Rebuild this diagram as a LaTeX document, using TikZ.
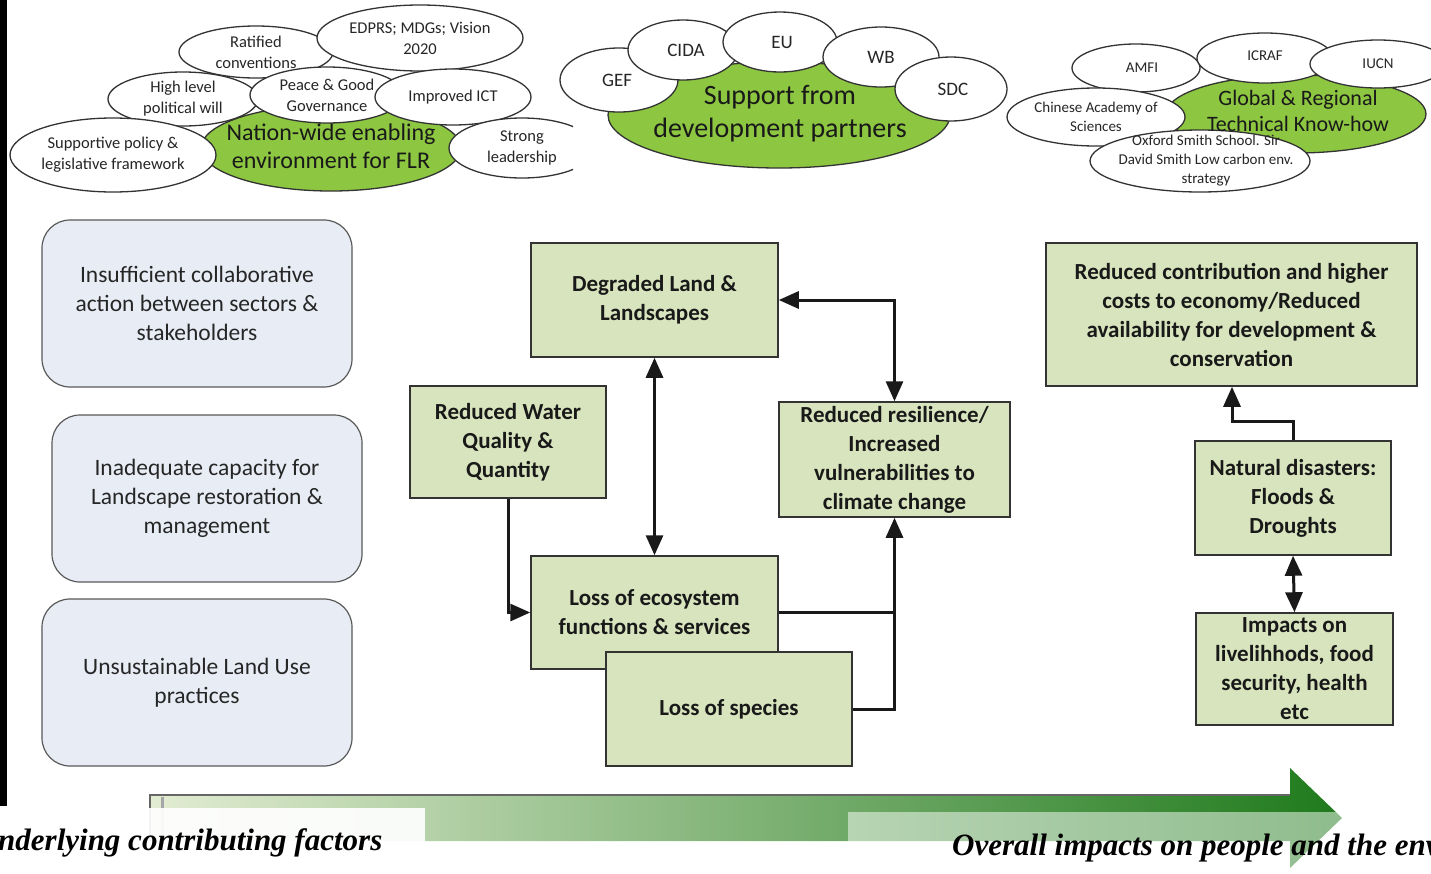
\documentclass[tikz,border=0pt]{standalone}
\usepackage{fontspec}
\setmainfont{Carlito}
\newfontfamily\capfont{Liberation Serif}
\usetikzlibrary{shapes.geometric,arrows.meta}

\definecolor{boxgreen}{HTML}{D7E4BD}
\definecolor{ovalgreen}{HTML}{8DC641}
\definecolor{causeblue}{HTML}{E8EDF5}
\definecolor{arrowlight}{HTML}{E2ECD2}
\definecolor{arrowmid}{HTML}{A9C681}
\definecolor{arrowdark}{HTML}{1F7A1C}

\begin{document}
\begin{tikzpicture}[x=1pt,y=-1pt,
  >={Triangle[length=20pt,width=17pt]},
  oval/.style={ellipse,draw=black!80,line width=1.3pt,fill=white,inner sep=0pt,outer sep=0pt},
  goval/.style={oval,fill=ovalgreen},
  ovtext/.style={align=center,inner sep=0pt,text=black!85,font=\fontsize{16.5}{21}\selectfont},
  ovtextb/.style={ovtext,font=\fontsize{19}{22}\selectfont},
  ovtextc/.style={ovtext,font=\fontsize{15}{19}\selectfont},
  gtext/.style={align=center,inner sep=0pt,text=black!90},
  cause/.style={draw=black!65,line width=1.2pt,fill=causeblue,rounded corners=28pt,
    minimum width=310pt,minimum height=167pt,align=center,inner sep=0pt,
    text=black!85,font=\fontsize{23.5}{29}\selectfont},
  effect/.style={draw=black!80,line width=1.5pt,fill=boxgreen,align=center,inner sep=0pt,
    text=black!90,font=\fontsize{23}{29}\selectfont\bfseries},
  link/.style={draw=black!90,line width=3pt},
  caption/.style={inner sep=0pt,text=black,font=\capfont\bfseries\itshape\fontsize{31}{31}\selectfont}
]
\useasboundingbox (0,0) rectangle (1431,873);
\clip (0,0) rectangle (1431,873);
\fill[white] (0,0) rectangle (1431,873);
\fill[black] (0,0) rectangle (7,806);

% ---------- enabling environment cluster ----------
\node[goval,minimum width=260pt,minimum height=86pt] (flr) at (331,148) {};
\node[oval,minimum width=154pt,minimum height=52pt,label={[ovtext]center:{Ratified\\conventions}}] (ratif) at (256,52) {};
\node[oval,minimum width=206pt,minimum height=66pt,label={[ovtext]center:{EDPRS; MDGs; Vision\\2020}}] (edprs) at (420,38) {};
\node[oval,minimum width=150pt,minimum height=54pt,label={[ovtext]center:{High level\\political will}}] (will) at (183,99) {};
\node[oval,minimum width=154pt,minimum height=56pt,label={[ovtext]center:{Peace \& Good\\Governance}}] (peace) at (327,95) {};
\node[oval,minimum width=156pt,minimum height=56pt,label={[ovtext]center:{Improved ICT}}] (ict) at (453,97) {};
\node[oval,minimum width=206pt,minimum height=74pt,label={[ovtext]center:{Supportive policy \&\\legislative framework}}] (policy) at (113,155) {};
\begin{scope}
  \clip (0,0) rectangle (573,200);
  \node[oval,minimum width=146pt,minimum height=60pt,label={[ovtext]center:{Strong\\leadership}}] (lead) at (522,148) {};
\end{scope}
\node[gtext,font=\fontsize{24}{28}\selectfont] (flrtext) at (331,146) {Nation-wide enabling\\environment for FLR};

% ---------- development partners cluster ----------
\node[goval,minimum width=342pt,minimum height=106pt] (dev) at (779,115) {};
\node[oval,minimum width=118pt,minimum height=64pt,label={[ovtextb,xshift=-2pt]center:GEF}] (gef) at (619,80) {};
\node[oval,minimum width=110pt,minimum height=60pt,label={[ovtextb,xshift=3pt]center:CIDA}] (cida) at (683,50) {};
\node[oval,minimum width=114pt,minimum height=60pt,label={[ovtextb,xshift=2pt]center:EU}] (eu) at (780,42) {};
\node[oval,minimum width=116pt,minimum height=60pt,label={[ovtextb]center:WB}] (wb) at (881,57) {};
\node[oval,minimum width=112pt,minimum height=64pt,label={[ovtextb,xshift=2pt]center:SDC}] (sdc) at (951,89) {};
\node[gtext,font=\fontsize{28}{33}\selectfont] (devtext) at (780,114) {Support from\\development partners};

% ---------- technical know-how cluster ----------
\node[goval,minimum width=260pt,minimum height=78pt] (know) at (1296,114) {};
\node[oval,minimum width=128pt,minimum height=48pt,label={[ovtextc,xshift=6pt]center:AMFI}] (amfi) at (1136,68) {};
\node[oval,minimum width=136pt,minimum height=50pt,label={[ovtextc,yshift=2pt]center:ICRAF}] (icraf) at (1265,58) {};
\node[oval,minimum width=136pt,minimum height=48pt,label={[ovtextc]center:IUCN}] (iucn) at (1378,64) {};
\node[oval,minimum width=178pt,minimum height=58pt,label={[ovtextc]center:{Chinese Academy of\\Sciences}}] (cas) at (1096,117) {};
\node[oval,minimum width=220pt,minimum height=62pt,label={[ovtextc,xshift=6pt]center:{Oxford Smith School. Sir\\David Smith Low carbon env.\\strategy}}] (oxford) at (1200,161) {};
\node[gtext,font=\fontsize{22}{26}\selectfont] (knowtext) at (1298,111) {Global \& Regional\\Technical Know-how};

% ---------- underlying causes ----------
\node[cause] (collab) at (197,303.5) {Insufficient collaborative\\action between sectors \&\\stakeholders};
\node[cause] (capac) at (207,498.5) {Inadequate capacity for\\Landscape restoration \&\\management};
\node[cause] (landuse) at (197,682.5) {Unsustainable Land Use\\practices};

% ---------- direct effects ----------
\node[effect,minimum width=247pt,minimum height=114pt] (degr) at (654.5,300) {Degraded Land \&\\Landscapes};
\node[effect,minimum width=196pt,minimum height=112pt] (water) at (508,442) {Reduced Water\\Quality \&\\Quantity};
\node[effect,minimum width=231pt,minimum height=115pt] (resil) at (894.5,459.5) {Reduced resilience/\\Increased\\vulnerabilities to\\climate change};
\node[effect,minimum width=247pt,minimum height=113pt] (eco) at (654.5,612.5) {Loss of ecosystem\\functions \& services};
\node[effect,minimum width=246pt,minimum height=114pt] (spec) at (729,709) {Loss of species};

% ---------- overall impacts ----------
\node[effect,minimum width=371pt,minimum height=143pt] (contrib) at (1231.5,314.5) {Reduced contribution and higher\\costs to economy/Reduced\\availability for development \&\\conservation};
\node[effect,minimum width=196pt,minimum height=114pt] (nat) at (1293,498) {Natural disasters:\\Floods \&\\Droughts};
\node[effect,minimum width=197pt,minimum height=112pt] (imp) at (1294.5,669) {Impacts on\\livelihhods, food\\security, health\\etc};

% ---------- connectors ----------
\draw[link,<->] (degr.south) -- (eco.north);
\draw[link,<->] (degr.east) -| (resil.north);
\draw[link,->] (water.south) |- (eco.west);
\draw[link] (eco.east) -- (eco.east -| resil.south);
\draw[link,->] (spec.east) -| (resil.south);
\coordinate (kink) at (1232,421);
\draw[link,->] (nat.north) |- (kink) -- (kink |- contrib.south);
\draw[link,<->] (nat.south) -- (imp.north);

% ---------- progression arrow ----------
\shade[left color=arrowlight,middle color=arrowmid,right color=arrowdark]
  (150,795) -- (1290,795) -- (1290,768) -- (1342,818) -- (1290,868) -- (1290,841) -- (150,841) -- cycle;
\draw[black!60,line width=2pt] (150,841) -- (150,795) -- (1290,795);
\draw[black!35,line width=3pt] (162,797) -- (162,841);

\fill[white,opacity=0.92] (0,808) rectangle (425,873);
\fill[white,opacity=0.5] (848,812) rectangle (1431,873);
\node[caption,anchor=base west] (under) at (-2,850) {\llap{U}nderlying contributing factors};
\node[caption,anchor=base west] (overall) at (952,855) {Overall impacts on people and the environment};
\end{tikzpicture}
\end{document}
